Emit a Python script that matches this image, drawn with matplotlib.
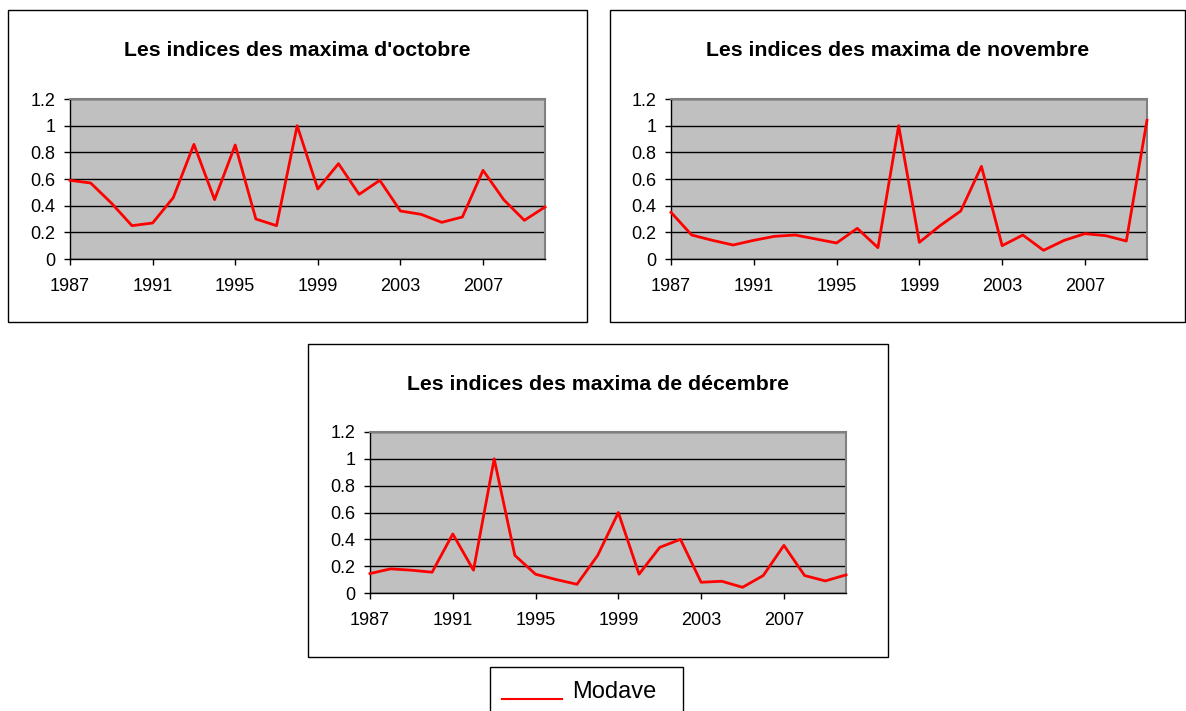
import matplotlib.pyplot as plt
import numpy as np
from matplotlib.patches import Rectangle
from matplotlib.lines import Line2D

plt.rcParams['font.family'] = ['Liberation Sans', 'DejaVu Sans']

years = np.arange(1987, 2011)

octobre = [0.59, 0.57, 0.42, 0.25, 0.27, 0.46, 0.86, 0.445, 0.855, 0.30, 0.25, 1.0,
           0.525, 0.715, 0.485, 0.59, 0.36, 0.335, 0.275, 0.315, 0.665, 0.445, 0.29, 0.39]
novembre = [0.35, 0.18, 0.14, 0.105, 0.14, 0.17, 0.18, 0.15, 0.12, 0.23, 0.085, 1.0,
            0.125, 0.25, 0.36, 0.695, 0.10, 0.18, 0.065, 0.14, 0.19, 0.175, 0.135, 1.04]
decembre = [0.145, 0.18, 0.17, 0.155, 0.44, 0.17, 1.0, 0.28, 0.14, 0.10, 0.065, 0.28,
            0.60, 0.14, 0.34, 0.40, 0.08, 0.0875, 0.0425, 0.13, 0.355, 0.13, 0.09, 0.135]

titles = ["Les indices des maxima d'octobre",
          "Les indices des maxima de novembre",
          "Les indices des maxima de décembre"]
series_name = 'Modave'

W, H = 1186, 711
fig = plt.figure(figsize=(W / 100, H / 100), dpi=100)
fig.patch.set_facecolor('white')


def px_rect(x0, y0, x1, y1):
    # pixel box (top-left origin) -> figure fraction
    return [x0 / W, 1 - y1 / H, (x1 - x0) / W, (y1 - y0) / H]


def frame(x0, y0, x1, y1):
    fig.add_artist(Rectangle((x0 / W, 1 - y1 / H), (x1 - x0) / W, (y1 - y0) / H,
                             transform=fig.transFigure, fill=False,
                             edgecolor='black', linewidth=1))


def panel(box, area, title, vals, title_y):
    frame(*box)
    ax = fig.add_axes(px_rect(*area))
    ax.set_facecolor('#C0C0C0')
    ax.plot(years, vals, color='#FF0000', linewidth=2, zorder=3, clip_on=False)
    ax.set_xlim(1987, 2010)
    ax.set_ylim(0, 1.2)
    yt = np.arange(0, 1.21, 0.2)
    ax.set_yticks(yt)
    ax.set_yticklabels(['0', '0.2', '0.4', '0.6', '0.8', '1', '1.2'])
    ax.set_xticks(np.arange(1987, 2010, 4))
    ax.tick_params(labelsize=13, length=4, width=1, direction='out')
    ax.tick_params(axis='x', pad=10)
    ax.tick_params(axis='y', pad=6.5)
    ax.yaxis.grid(True, color='black', linewidth=1)
    ax.set_axisbelow(True)
    for s in ['top', 'right']:
        ax.spines[s].set_color('#808080')
        ax.spines[s].set_linewidth(1.5)
    for s in ['left', 'bottom']:
        ax.spines[s].set_color('black')
        ax.spines[s].set_linewidth(1)
    cx = (box[0] + box[2]) / 2
    fig.text(cx / W, 1 - title_y / H, title, ha='center', va='center',
             fontsize=15.3, fontweight='bold')
    return ax


ax1 = panel((8, 10, 587, 322), (70, 99, 545, 259), titles[0], octobre, 50)
ax2 = panel((610, 10, 1185, 322), (671, 99, 1147, 259), titles[1], novembre, 50)
ax3 = panel((308, 344, 888, 657), (370, 432, 846, 593), titles[2], decembre, 385)

# legend box, Excel style (runs off the bottom of the page)
frame(490, 667, 683, 720)
fig.add_artist(Line2D([502 / W, 562 / W], [1 - 699 / H, 1 - 699 / H],
                      transform=fig.transFigure, color='#FF0000', linewidth=1.5))
fig.text(572 / W, 1 - 692 / H, series_name, ha='left', va='center', fontsize=17)

fig.savefig('out.png', dpi=100)
